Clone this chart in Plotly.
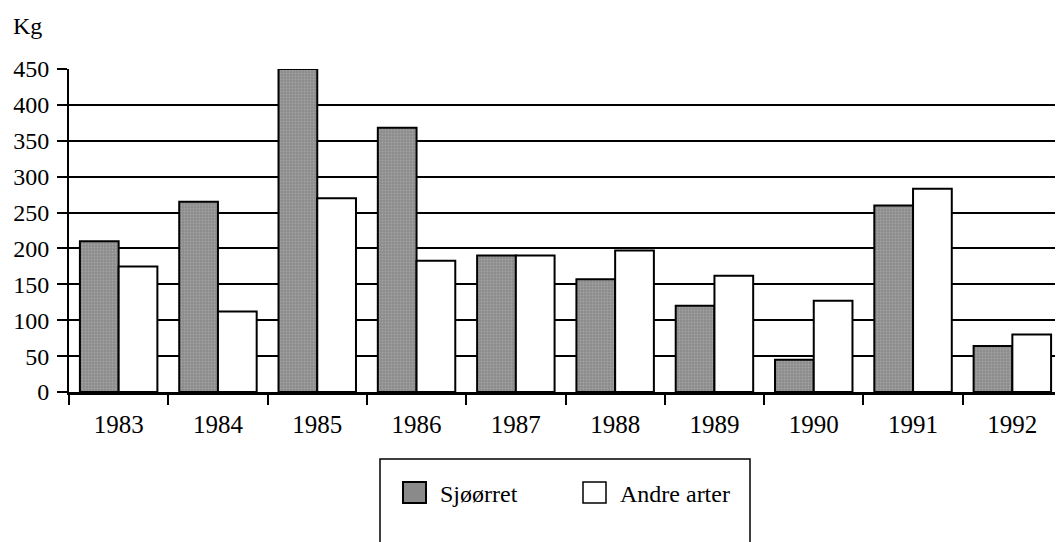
import plotly.graph_objects as go

years = ["1983", "1984", "1985", "1986", "1987", "1988", "1989", "1990", "1991", "1992"]
sjoorret = [210, 265, 450, 368, 190, 157, 120, 45, 260, 64]
andre_arter = [175, 112, 270, 183, 190, 197, 162, 127, 283, 80]
y_ticks = [0, 50, 100, 150, 200, 250, 300, 350, 400, 450]

FONT = "Liberation Serif"

fig = go.Figure()
fig.add_trace(go.Bar(
    x=years, y=sjoorret, name="Sjøørret",
    marker=dict(color="#8a8a8a",
                line=dict(color="black", width=2),
                pattern=dict(shape=".", fgcolor="#bdbdbd", size=3, solidity=0.35)),
))
fig.add_trace(go.Bar(
    x=years, y=andre_arter, name="Andre arter",
    marker=dict(color="white", line=dict(color="black", width=2)),
))

# page has an 8px body margin; target plot-area pixel geometry on the page
OFF = 8
L, R, T, B = 69, 1062, 69, 392
def px(x):
    return (x - L) / (R - L)
def py(y):
    return (B - y) / (B - T)

shapes = [
    dict(type="rect", xref="paper", yref="paper", x0=px(380), x1=px(750), y0=py(459), y1=py(600),
         line=dict(color="black", width=1.5), fillcolor="rgba(0,0,0,0)"),
    dict(type="rect", xref="paper", yref="paper", x0=px(403), x1=px(426), y0=py(482), y1=py(503),
         line=dict(color="black", width=2), fillcolor="#8a8a8a"),
    dict(type="rect", xref="paper", yref="paper", x0=px(583), x1=px(606), y0=py(482), y1=py(503),
         line=dict(color="black", width=1.5), fillcolor="white"),
]
annotations = [
    dict(text="Kg", xref="paper", yref="paper", x=px(11), y=py(26), xanchor="left", yanchor="middle",
         showarrow=False, font=dict(family=FONT, size=24, color="black")),
    dict(text="Sjøørret", xref="paper", yref="paper", x=px(438), y=py(494), xanchor="left", yanchor="middle",
         showarrow=False, font=dict(family=FONT, size=24, color="black")),
    dict(text="Andre arter", xref="paper", yref="paper", x=px(618), y=py(494), xanchor="left", yanchor="middle",
         showarrow=False, font=dict(family=FONT, size=24, color="black")),
]

W, H = 1063, 542
fig.update_layout(
    width=W, height=H,
    margin=dict(l=L - OFF, r=W - (R - OFF), t=T - OFF, b=H - (B - OFF), autoexpand=False),
    paper_bgcolor="white", plot_bgcolor="white",
    barmode="group", bargap=0.22, bargroupgap=0.0,
    showlegend=False,
    font=dict(family=FONT, size=24, color="black"),
    shapes=shapes, annotations=annotations,
    xaxis=dict(
        type="category", showline=True, linecolor="black", linewidth=3, automargin=False,
        ticks="outside", tickson="boundaries", ticklen=10, tickwidth=2, tickcolor="black",
        showgrid=False, tickfont=dict(family=FONT, size=25, color="black"),
        ticklabelstandoff=8,
    ),
    yaxis=dict(
        range=[0, 450], tickvals=y_ticks, showline=True, linecolor="black", linewidth=2,
        automargin=False,
        ticks="outside", ticklen=10, tickwidth=2, tickcolor="black",
        showgrid=True, gridcolor="black", gridwidth=2, zeroline=False,
        tickfont=dict(family=FONT, size=24, color="black"), ticklabelstandoff=3,
    ),
)

fig.write_html("out.html")
